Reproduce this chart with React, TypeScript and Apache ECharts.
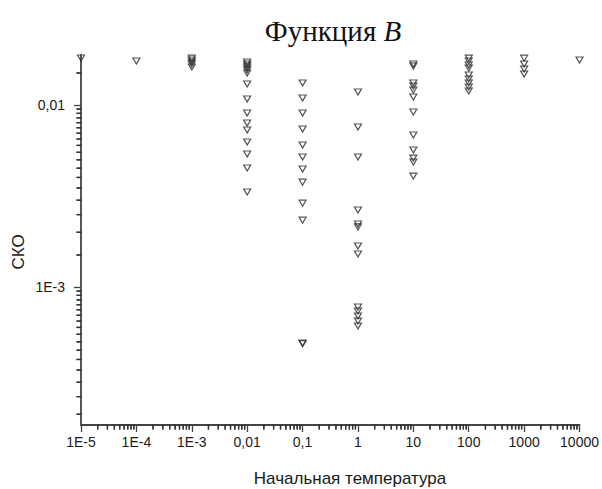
import React, { useEffect, useRef } from "react";
import * as echarts from "echarts";

// Initial temperatures (x) and the matching labels
const temperatures = [1e-5, 1e-4, 1e-3, 0.01, 0.1, 1, 10, 100, 1000, 10000];
const xTickLabels = ["1E-5", "1E-4", "1E-3", "0,01", "0,1", "1", "10", "100", "1000", "10000"];
const yTickValues = [1e-3, 0.01];
const yTickLabels = ["1E-3", "0,01"];

// СКО values per initial temperature
const cko_1e5 = [0.01812];
const cko_1e4 = [0.01745];
const cko_1e3 = [0.0181, 0.01768, 0.01723, 0.0168, 0.01617];
const cko_001 = [0.01723, 0.0168, 0.01638, 0.01597, 0.01557, 0.01499, 0.01304, 0.01079, 0.00904, 0.00796, 0.00729, 0.00626, 0.00538, 0.00451, 0.00333];
const cko_01 = [0.01321, 0.01093, 0.00904, 0.00738, 0.00603, 0.00518, 0.00445, 0.00377, 0.00289, 0.00233, 0.000492, 0.000488];
const cko_1 = [0.01179, 0.00757, 0.00518, 0.00265, 0.00222, 0.00214, 0.00168, 0.00152, 0.000777, 0.000738, 0.000693, 0.00065, 0.000611];
const cko_10 = [0.0168, 0.01638, 0.01321, 0.01272, 0.01209, 0.01107, 0.00915, 0.00684, 0.00566, 0.00511, 0.00486, 0.00407];
const cko_100 = [0.0181, 0.01745, 0.01659, 0.01597, 0.01462, 0.0139, 0.01321, 0.01256, 0.01194];
const cko_1000 = [0.0181, 0.0168, 0.01577, 0.0148];
const cko_10000 = [0.01768];

const columns = [cko_1e5, cko_1e4, cko_1e3, cko_001, cko_01, cko_1, cko_10, cko_100, cko_1000, cko_10000];

const Y_MIN = 1.746e-4;
const Y_MAX = 0.01883;

export default function App() {
  const ref = useRef<HTMLDivElement>(null);

  useEffect(() => {
    if (!ref.current) return;
    const chart = echarts.init(ref.current, null, { renderer: "svg" });

    const lg = (v: number) => Math.log10(v);
    const points: number[][] = [];
    columns.forEach((col, i) => {
      col.forEach((v) => points.push([lg(temperatures[i]), lg(v)]));
    });

    const yMin = lg(Y_MIN);
    const yMax = lg(Y_MAX);
    const xMajor = temperatures.map(lg);
    const yMajor = yTickValues.map(lg);

    // log-scale minor tick positions (in axis value space)
    const xMinor: number[] = [];
    for (let d = -5; d < 4; d++) {
      for (let k = 2; k <= 9; k++) xMinor.push(lg(k * Math.pow(10, d)));
    }
    const yMinor: number[] = [];
    for (let d = -4; d <= -2; d++) {
      for (let k = 1.5; k < 10; k += 0.5) {
        const v = lg(k * Math.pow(10, d));
        if (v > yMin + 1e-6 && v < yMax - 1e-6) yMinor.push(v);
      }
    }
    const minorData: number[][] = xMinor
      .map((v) => [v, yMin, 0])
      .concat(yMinor.map((v) => [-5, v, 1]));

    const fmtX = (v: number) => {
      const i = xMajor.findIndex((m) => Math.abs(m - v) < 1e-6);
      return i >= 0 ? xTickLabels[i] : "";
    };
    const fmtY = (v: number) => {
      const i = yMajor.findIndex((m) => Math.abs(m - v) < 1e-6);
      return i >= 0 ? yTickLabels[i] : "";
    };

    const lineColor = "#444";
    const sans = "Liberation Sans, Arial, sans-serif";
    const TICK = 4.5;

    const texts: any[] = [
      {
        type: "text",
        x: 333,
        y: 31,
        style: {
          text: "{a|Функция }{b|B}",
          align: "center",
          verticalAlign: "middle",
          rich: {
            a: { fontFamily: "Liberation Serif, Times New Roman, serif", fontSize: 29, fill: "#111" },
            b: { fontFamily: "Liberation Serif, Times New Roman, serif", fontSize: 29, fontStyle: "italic", fill: "#111" },
          },
        },
      },
      {
        type: "text",
        x: 350,
        y: 478,
        style: {
          text: "Начальная температура",
          align: "center",
          verticalAlign: "middle",
          fontFamily: sans,
          fontSize: 17,
          fill: "#1a1a1a",
        },
      },
      {
        type: "text",
        x: 18,
        y: 252,
        rotation: Math.PI / 2,
        style: {
          text: "СКО",
          align: "center",
          verticalAlign: "middle",
          fontFamily: sans,
          fontSize: 17,
          fill: "#1a1a1a",
        },
      },
    ];

    chart.setOption({
      animation: false,
      backgroundColor: "#ffffff",
      grid: { left: 81, right: 21, top: 55, bottom: 64, containLabel: false },
      xAxis: {
        type: "value",
        min: -5,
        max: 4,
        interval: 1,
        position: "bottom",
        axisLine: { show: true, onZero: false, lineStyle: { color: lineColor, width: 1.8 } },
        axisTick: { show: true, inside: false, length: 7, customValues: xMajor, lineStyle: { color: lineColor, width: 1.3 } },
        axisLabel: { show: true, customValues: xMajor, formatter: fmtX, margin: 10, color: "#1a1a1a", fontSize: 14, fontFamily: sans },
        splitLine: { show: false },
      },
      yAxis: {
        type: "value",
        min: yMin,
        max: yMax,
        position: "left",
        axisLine: { show: true, onZero: false, lineStyle: { color: lineColor, width: 1.8 } },
        axisTick: { show: true, inside: false, length: 7, customValues: yMajor, lineStyle: { color: lineColor, width: 1.3 } },
        axisLabel: { show: true, customValues: yMajor, formatter: fmtY, margin: 16, color: "#1a1a1a", fontSize: 14, fontFamily: sans },
        splitLine: { show: false },
      },
      graphic: texts,
      series: [
        {
          type: "custom",
          silent: true,
          clip: false,
          z: 10,
          data: minorData,
          renderItem: (_params: any, api: any) => {
            const p = api.coord([api.value(0), api.value(1)]);
            const vertical = api.value(2) === 0;
            return {
              type: "line",
              shape: vertical
                ? { x1: p[0], y1: p[1] - 0.5, x2: p[0], y2: p[1] + TICK }
                : { x1: p[0] - TICK, y1: p[1], x2: p[0] + 0.5, y2: p[1] },
              style: { stroke: "#333", lineWidth: 1.3 },
            };
          },
        },
        {
          type: "scatter",
          data: points,
          symbol: "triangle",
          symbolRotate: 180,
          symbolSize: [7, 6],
          clip: false,
          itemStyle: { color: "rgba(255,255,255,0)", borderColor: "#2a2a2a", borderWidth: 1.2 },
        },
      ],
    });

    // the same minor ticks, also placed through the chart's own scales as graphic lines
    try {
      const ticks: any[] = [];
      minorData.forEach((d) => {
        const p = chart.convertToPixel({ gridIndex: 0 }, [d[0], d[1]]) as number[];
        if (!p) return;
        ticks.push({
          type: "line",
          silent: true,
          z: 100,
          shape: d[2] === 0
            ? { x1: p[0], y1: p[1] - 0.5, x2: p[0], y2: p[1] + TICK }
            : { x1: p[0] - TICK, y1: p[1], x2: p[0] + 0.5, y2: p[1] },
          style: { stroke: "#333", lineWidth: 1.3 },
        });
      });
      chart.setOption({ graphic: texts.concat(ticks) });
    } catch (e) {
      // keep the chart as drawn
    }

    return () => chart.dispose();
  }, []);

  return <div ref={ref} style={{ width: 602, height: 489, position: "absolute", left: 0, top: 0 }} />;
}
